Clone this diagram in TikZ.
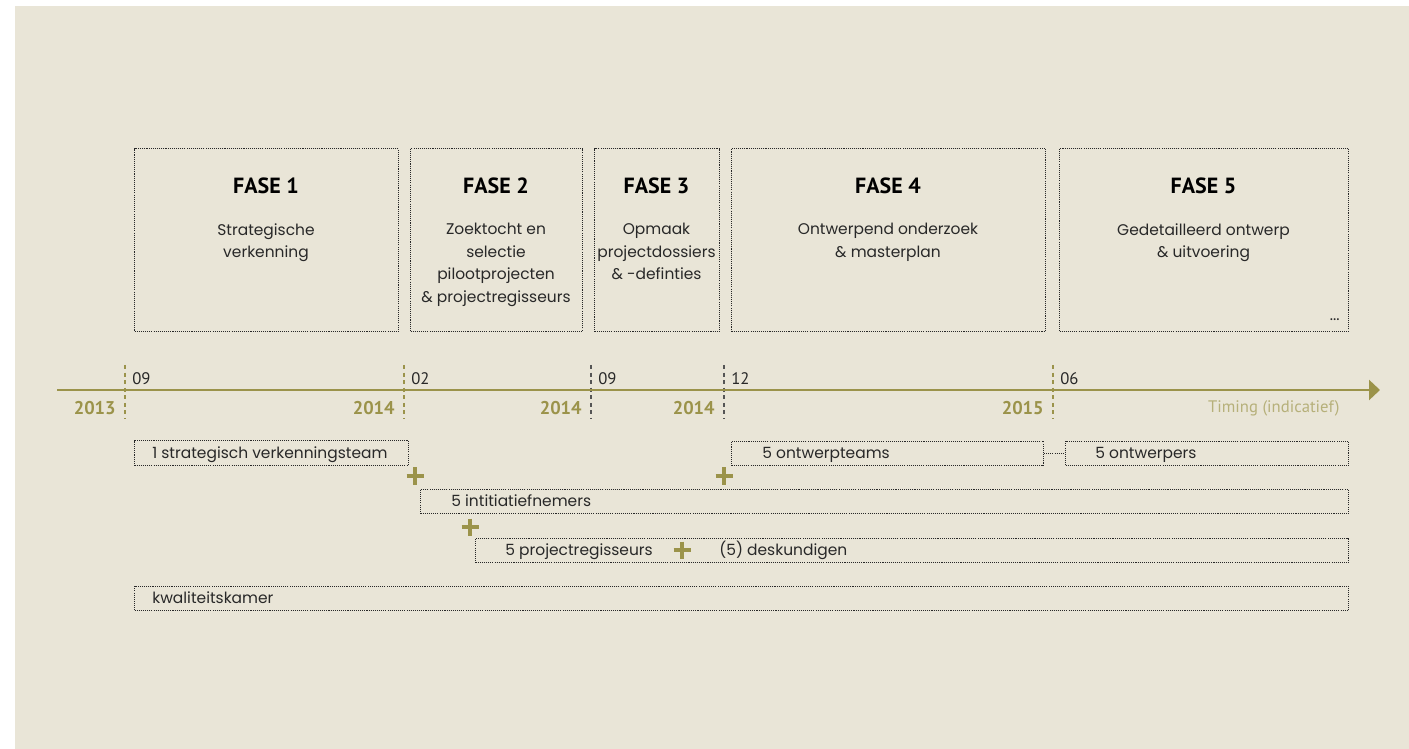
\documentclass[tikz,border=0pt]{standalone}
\usepackage{fontspec}
\setmainfont{Poppins}
\newfontfamily\dinfont{PT Sans}
\usetikzlibrary{arrows.meta,positioning}
\definecolor{beige}{RGB}{233,229,215}
\definecolor{olijf}{RGB}{155,147,74}
\definecolor{olijflicht}{RGB}{182,176,122}
\definecolor{donker}{RGB}{40,40,40}
\definecolor{grijs}{RGB}{85,85,85}
\tikzset{>=latex,
  stip/.style={draw=donker, line width=0.6pt, dash pattern=on 0.6pt off 0.6pt},
  fasebox/.style={stip, anchor=north west, minimum height=3.66cm, inner sep=0pt},
  fasetitel/.style={font=\dinfont\bfseries\fontsize{12.5}{14}\selectfont, text=black},
  faseuitleg/.style={font=\fontsize{8.8}{12.8}\selectfont, text=donker, align=center, anchor=north, inner sep=0pt},
  balk/.style={stip, anchor=west, minimum height=0.49cm, inner sep=0pt},
  balktekst/.style={font=\fontsize{8.8}{10}\selectfont, text=donker, inner sep=0pt, text height=1.5ex, text depth=0.4ex},
  maand/.style={font=\dinfont\fontsize{9.5}{11}\selectfont, text=donker, anchor=west, inner sep=0pt},
  jaar/.style={font=\dinfont\bfseries\fontsize{10.5}{12}\selectfont, text=olijf, anchor=east, inner sep=0pt},
  streep/.style={line width=0.85pt, dash pattern=on 2.3pt off 2pt},
  plusje/.style={olijf, line width=2.6pt}
}

\begin{document}
\begin{tikzpicture}[x=0.02cm, y=-0.02cm]

    \useasboundingbox (0,0) rectangle (1409,749);
    \fill[beige] (15,6) rectangle (1409,749);

    % fases
    \node[fasebox, minimum width=5.28cm] (f1) at (134,148) {};
    \node[fasebox, minimum width=3.44cm] (f2) at (410,148) {};
    \node[fasebox, minimum width=2.50cm] (f3) at (594,148) {};
    \node[fasebox, minimum width=6.28cm] (f4) at (731,148) {};
    \node[fasebox, minimum width=5.78cm] (f5) at (1059,148) {};

    \node[fasetitel] (t1) at (266,186) {FASE 1};
    \node[fasetitel] (t2) at (496,186) {FASE 2};
    \node[fasetitel] (t3) at (656.5,186) {FASE 3};
    \node[fasetitel] (t4) at (888,186) {FASE 4};
    \node[fasetitel] (t5) at (1203.5,186) {FASE 5};

    \node[faseuitleg] (u1) at (266,223) {Strategische\\verkenning};
    \node[faseuitleg] (u2) at (496,223) {Zoektocht en\\selectie\\pilootprojecten\\\& projectregisseurs};
    \node[faseuitleg] (u3) at (656.5,223) {Opmaak\\projectdossiers\\\& -definties};
    \node[faseuitleg] (u4) at (888,223) {Ontwerpend onderzoek\\\& masterplan};
    \node[faseuitleg] (u5) at (1203.5,223) {Gedetailleerd ontwerp\\\& uitvoering};
    \node[balktekst, anchor=south east] (puntjes) at (1340,325) {...};

    % tijdlijn
    \foreach \x/\kl/\mnd/\jr in {125/olijf/09/2013, 404/olijf/02/2014, 591/grijs/09/2014, 724/grijs/12/2014, 1053/olijf/06/2015}
    {
        \draw[streep, \kl] (\x,365) -- (\x,419);
        \node[maand] (m\x) at (\x+7,379) {\mnd};
        \node[jaar] (j\x) at (\x-9,408) {\jr};
    }
    \draw[olijf, line width=1.4pt, -{Triangle[length=0.22cm, width=0.4cm]}] (57,390) -- (1380,390);
    \node[font=\dinfont\fontsize{9.5}{11}\selectfont, text=olijflicht, anchor=east, inner sep=0pt] (timing) at (1340,408) {Timing (indicatief)};

    % teams
    \node[balk, minimum width=5.48cm] (b1) at (134,453) {};
    \node[balktekst, right=0.36cm of b1.west] (b1t) {1 strategisch verkenningsteam};

    \node[balk, minimum width=6.24cm] (b4) at (731,453.5) {};
    \node[balktekst, right=0.62cm of b4.west] (b4t) {5 ontwerpteams};

    \node[balk, minimum width=5.66cm] (b5) at (1065,453.5) {};
    \node[balktekst, right=0.60cm of b5.west] (b5t) {5 ontwerpers};
    \draw[stip] (b4.east) -- (b5.west);

    \node[balk, minimum width=18.56cm] (b2) at (420,501.5) {};
    \node[balktekst, right=0.62cm of b2.west] (b2t) {5 intitiatiefnemers};

    \node[balk, minimum width=17.46cm] (b3) at (475,550.5) {};
    \node[balktekst, right=0.60cm of b3.west] (b3t) {5 projectregisseurs};
    \node[balktekst, right=4.88cm of b3.west] (b3d) {(5) deskundigen};

    \node[balk, minimum width=24.28cm] (bk) at (134,598.5) {};
    \node[balktekst, right=0.36cm of bk.west] (bkt) {kwaliteitskamer};

    % plussen
    \foreach \x/\y in {415/476, 724/476, 470/527, 682/550}
    {
        \draw[plusje] (\x-8.5,\y) -- (\x+8.5,\y) (\x,\y-8.5) -- (\x,\y+8.5);
    }

\end{tikzpicture}
\end{document}
